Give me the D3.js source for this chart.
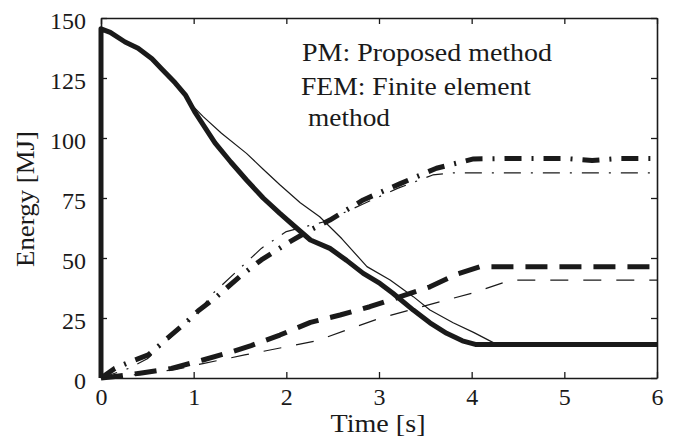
<!DOCTYPE html>
<html>
<head>
<meta charset="utf-8">
<script src="https://cdn.jsdelivr.net/npm/d3@7"></script>
<style>
  html, body { margin: 0; padding: 0; background: #fff; }
  svg { display: block; }
  svg text { font-family: "Liberation Serif", "DejaVu Serif", serif !important; fill: #1a1a1a; }
</style>
</head>
<body>
<svg id="chart" width="675" height="446"></svg>
<script>
// ---------------- data ----------------
const xTicks = [0, 1, 2, 3, 4, 5, 6];
const yTicks = [0, 25, 50, 75, 100, 125, 150];
const xLabel = "Time [s]";
const yLabel = "Energy [MJ]";
const legendLines = ["PM: Proposed method", "FEM: Finite element", "method"];

// Solid: PM (thick) and FEM (thin)
const pmSolidT = [0, 0, 0.1, 0.26, 0.4, 0.55, 0.65, 0.8, 0.91, 1.01, 1.23, 1.4, 1.57, 1.75, 1.93, 2.11, 2.26, 2.47, 2.65, 2.83, 3.01, 3.15, 3.37, 3.55, 3.73, 3.9, 4.04, 6];
const pmSolidV = [0, 145.5, 144, 140, 137.4, 133, 129, 123, 118, 111, 98, 90, 82.5, 75, 68.6, 62.5, 57.5, 54, 49, 43.6, 39.4, 35.3, 28.3, 23, 18.6, 15.5, 14, 14];
const femSolidT = [0, 0, 0.1, 0.26, 0.4, 0.55, 0.65, 0.8, 0.91, 1.0, 1.1, 1.3, 1.57, 1.75, 1.93, 2.15, 2.36, 2.6, 2.87, 3.12, 3.37, 3.55, 3.8, 4.02, 4.27, 6];
const femSolidV = [0, 145.5, 144, 140, 137.4, 133, 129, 123, 118, 113, 109, 102, 93.6, 87, 80.5, 73, 67.2, 58, 46.4, 40.8, 33.9, 28.3, 23, 19, 14, 14];

// Dash-dot: PM (thick) and FEM (thin)
const pmDashDotT = [0, 0.15, 0.3, 0.51, 0.7, 0.91, 1.05, 1.23, 1.52, 1.73, 2.04, 2.25, 2.47, 2.83, 3.23, 3.62, 4.02, 4.5, 5.0, 5.3, 5.6, 6];
const pmDashDotV = [0, 4, 6.5, 9.6, 16, 22.9, 28, 33.3, 43, 49.2, 56.8, 61.5, 65.8, 74.2, 81, 87.4, 91.3, 91.5, 91.5, 90.6, 91.5, 91.5];
const femDashDotT = [0, 0.3, 0.5, 0.76, 1.07, 1.19, 1.48, 1.73, 2.0, 2.4, 2.8, 3.2, 3.58, 3.8, 6];
const femDashDotV = [0, 4, 8, 17.2, 28.3, 34.6, 45, 54, 61, 65, 72, 79, 84.6, 85.5, 85.5];

// Dashed: PM (thick) and FEM (thin)
const pmDashedT = [0, 0.13, 0.42, 0.76, 1.1, 1.42, 1.62, 1.93, 2.26, 2.58, 2.9, 3.23, 3.55, 3.84, 4.09, 6];
const pmDashedV = [0, 0.5, 2, 4, 7.5, 11, 13.5, 17.9, 23.2, 26.25, 29.7, 33.9, 38, 43.3, 46.4, 46.4];
const femDashedT = [0, 0.4, 0.8, 1.1, 1.55, 2.0, 2.33, 2.65, 3.01, 3.33, 3.66, 4.02, 4.34, 4.45, 6];
const femDashedV = [0, 1.5, 3.5, 6, 9.6, 13, 15.5, 20, 24.9, 28.3, 31.8, 35.5, 39.7, 40.8, 40.8];

// ---------------- drawing ----------------
const svg = d3.select("#chart");
const W = 675, H = 446;
const margin = { left: 101, right: W - 657, top: 18, bottom: H - 378 };
const iw = W - margin.left - margin.right;
const ih = H - margin.top - margin.bottom;

const x = d3.scaleLinear().domain([0, 6]).range([0, iw]);
const y = d3.scaleLinear().domain([0, 150]).range([ih, 0]);

const g = svg.append("g").attr("transform", `translate(${margin.left},${margin.top})`);

const ink = "#1a1a1a";
const FONT = "'Liberation Serif', 'DejaVu Serif', serif";
const zip = (ts, vs) => ts.map((t, i) => [t, vs[i]]);
const line = d3.line().x(d => x(d[0])).y(d => y(d[1]));

const series = [
  { d: zip(femSolidT, femSolidV), w: 1.2, dash: null },
  { d: zip(femDashDotT, femDashDotV), w: 1.2, dash: "17,10,2,10" },
  { d: zip(femDashedT, femDashedV), w: 1.2, dash: "18,15" },
  { d: zip(pmDashedT, pmDashedV), w: 5, dash: "22,12" },
  { d: zip(pmDashDotT, pmDashDotV), w: 5, dash: "17,10,2,10" },
  { d: zip(pmSolidT, pmSolidV), w: 5, dash: null }
];

g.append("g").selectAll("path").data(series).join("path")
  .attr("d", s => line(s.d))
  .attr("fill", "none")
  .attr("stroke", ink)
  .attr("stroke-width", s => s.w)
  .attr("stroke-linejoin", "round")
  .attr("stroke-dasharray", s => s.dash);

// axes (ticks inward, box)
const tickLen = 6;
const fontSize = 24;
const axB = d3.axisBottom(x).tickValues(xTicks).tickSizeInner(-tickLen).tickSizeOuter(0).tickPadding(tickLen + 9).tickFormat(d3.format("d"));
const axT = d3.axisTop(x).tickValues(xTicks).tickSizeInner(-tickLen).tickSizeOuter(0).tickFormat("");
const axL = d3.axisLeft(y).tickValues(yTicks).tickSizeInner(-tickLen).tickSizeOuter(0).tickPadding(tickLen + 9).tickFormat(d3.format("d"));
const axR = d3.axisRight(y).tickValues(yTicks).tickSizeInner(-tickLen).tickSizeOuter(0).tickFormat("");

function style(sel) {
  sel.attr("font-family", FONT).attr("font-size", fontSize);
  sel.select(".domain").attr("stroke", ink).attr("stroke-width", 1.6);
  sel.selectAll(".tick line").attr("stroke", ink).attr("stroke-width", 1.3);
  sel.selectAll(".tick text").style("font-family", FONT).attr("font-size", fontSize).attr("fill", ink);
}
const gB = g.append("g").attr("transform", `translate(0,${ih})`).call(axB).call(style);
gB.selectAll(".tick text").attr("dy", null).attr("y", 27);
g.append("g").call(axT).call(style);
const gL = g.append("g").call(axL).call(style);
gL.selectAll(".tick text").attr("dy", null).attr("y", 10);
g.append("g").attr("transform", `translate(${iw},0)`).call(axR).call(style);

// axis titles
svg.append("text")
  .attr("x", (margin.left + 657) / 2 - 1)
  .attr("y", 432)
  .attr("text-anchor", "middle")
  .style("font-family", FONT)
  .attr("font-size", 25)
  .attr("textLength", 95)
  .attr("lengthAdjust", "spacingAndGlyphs")
  .text(xLabel);

svg.append("text")
  .attr("transform", `translate(34,${199}) rotate(-90)`)
  .attr("text-anchor", "middle")
  .style("font-family", FONT)
  .attr("font-size", 25)
  .attr("textLength", 136)
  .attr("lengthAdjust", "spacingAndGlyphs")
  .text(yLabel);

// legend text
const legendPos = [
  { x: 302, y: 61, len: 250 },
  { x: 301, y: 94.5, len: 230 },
  { x: 308, y: 126, len: 82 }
];
svg.append("g").selectAll("text").data(legendLines).join("text")
  .attr("x", (d, i) => legendPos[i].x)
  .attr("y", (d, i) => legendPos[i].y)
  .style("font-family", FONT)
  .attr("font-size", 25)
  .attr("textLength", (d, i) => legendPos[i].len)
  .attr("lengthAdjust", "spacingAndGlyphs")
  .text(d => d);
</script>
</body>
</html>
